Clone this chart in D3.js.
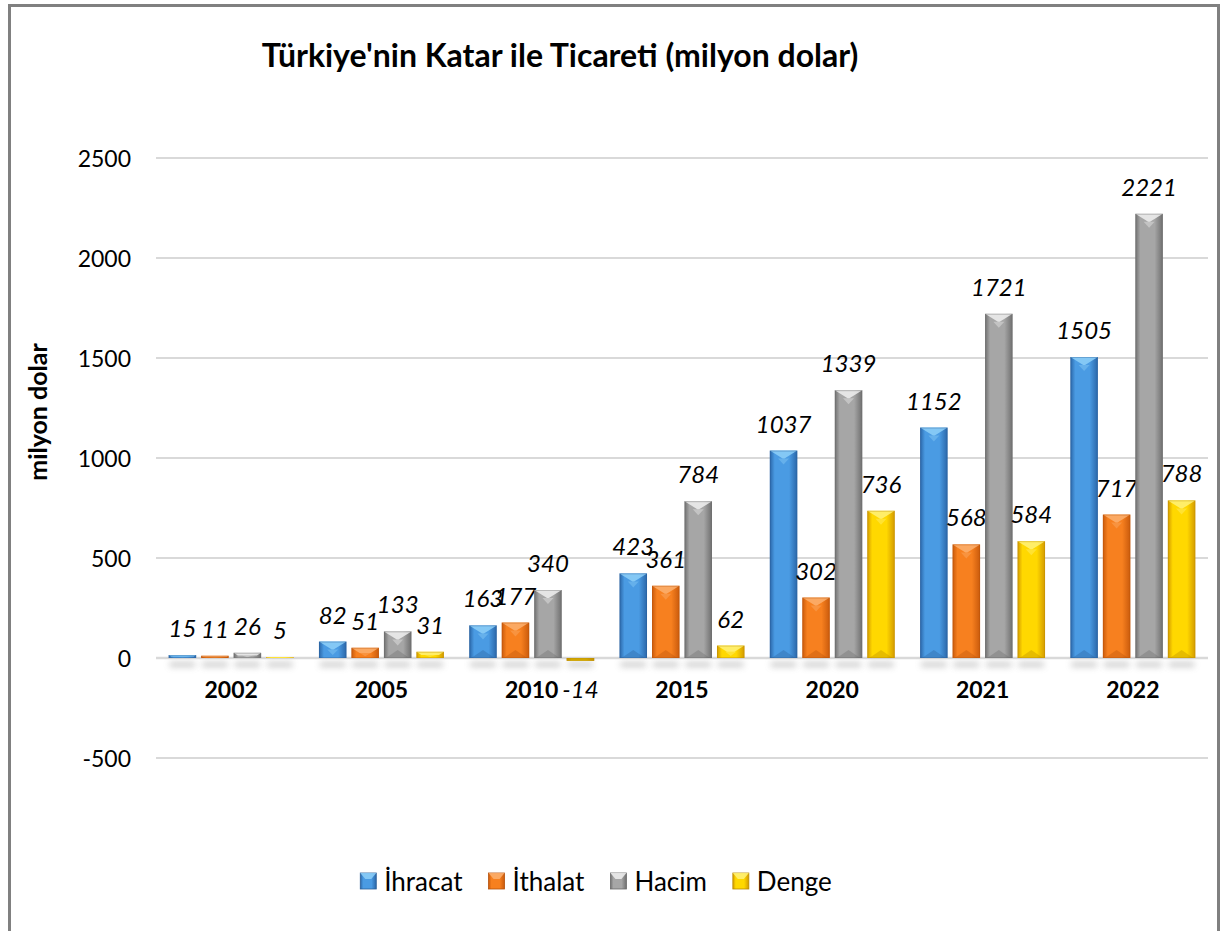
<!DOCTYPE html>
<html>
<head>
<meta charset="utf-8">
<script src="https://cdn.jsdelivr.net/npm/d3@7/dist/d3.min.js"></script>
<style>
  html, body { margin: 0; padding: 0; background: #fff; }
  svg { display: block; font-family: Lato, "Open Sans", sans-serif; }
</style>
</head>
<body>
<svg id="chart" width="1223" height="931"></svg>
<script>
const years = ["2002", "2005", "2010", "2015", "2020", "2021", "2022"];
const seriesNames = ["İhracat", "İthalat", "Hacim", "Denge"];
const ihracat = [15, 82, 163, 423, 1037, 1152, 1505];
const ithalat = [11, 51, 177, 361, 302, 568, 717];
const hacim   = [26, 133, 340, 784, 1339, 1721, 2221];
const denge   = [5, 31, -14, 62, 736, 584, 788];
const yTicks  = [-500, 0, 500, 1000, 1500, 2000, 2500];
const titleText = "Türkiye'nin Katar ile Ticareti (milyon dolar)";
const yTitle = "milyon dolar";

const seriesValues = [ihracat, ithalat, hacim, denge];
const palette = [
  {edge: "#2a66a8", mid: "#4a9be3", light: "#8ed0f8", dark: "#2b5f98"},
  {edge: "#c95a0c", mid: "#f7801f", light: "#fbb070", dark: "#b5500a"},
  {edge: "#6f6f6f", mid: "#a6a6a6", light: "#f0f0f0", dark: "#6a6a6a"},
  {edge: "#d39a00", mid: "#ffd800", light: "#fff27a", dark: "#b88a00"}
];

const svg = d3.select("#chart");
const defs = svg.append("defs");

palette.forEach((p, i) => {
  const g = defs.append("linearGradient").attr("id", "grad" + i)
    .attr("x1", "0%").attr("x2", "100%").attr("y1", "0%").attr("y2", "0%");
  g.append("stop").attr("offset", "0%").attr("stop-color", p.edge);
  g.append("stop").attr("offset", "18%").attr("stop-color", p.mid);
  g.append("stop").attr("offset", "70%").attr("stop-color", p.mid);
  g.append("stop").attr("offset", "100%").attr("stop-color", p.edge);
});
const blur = defs.append("filter").attr("id", "shadow").attr("x", "-50%").attr("y", "-150%").attr("width", "200%").attr("height", "400%");
blur.append("feGaussianBlur").attr("stdDeviation", 3.2);

// frame
svg.append("rect").attr("x", 9.5).attr("y", 5.5).attr("width", 1209).attr("height", 960)
  .attr("fill", "none").attr("stroke", "#808080").attr("stroke-width", 3);

const x0 = d3.scaleBand().domain(years).range([156, 1208]).padding(0);
const x1 = d3.scaleBand().domain(seriesNames).range([0, x0.bandwidth()])
  .paddingInner(0.154).paddingOuter(0.39);
const y = d3.scaleLinear().domain([-500, 2500]).range([758, 158]);

// gridlines
svg.append("g").selectAll("line").data(yTicks).join("line")
  .attr("x1", 156).attr("x2", 1208)
  .attr("y1", d => y(d)).attr("y2", d => y(d))
  .attr("stroke", "#d9d9d9").attr("stroke-width", d => d === 0 ? 2.5 : 2);

// y axis labels
const yAxis = svg.append("g").attr("transform", "translate(131,0)")
  .call(d3.axisLeft(y).tickValues(yTicks).tickSize(0).tickPadding(0).tickFormat(d => String(d)));
yAxis.select(".domain").remove();
yAxis.selectAll("text").attr("font-size", 23).attr("fill", "#000")
  .attr("font-family", "Lato, sans-serif").attr("dy", "0.36em");

// bars
const groups = svg.append("g").selectAll("g").data(years).join("g")
  .attr("transform", d => `translate(${x0(d)},0)`);

const bw = x1.bandwidth();
groups.each(function(yr, yi) {
  const g = d3.select(this);
  seriesNames.forEach((s, si) => {
    const v = seriesValues[si][yi];
    const p = palette[si];
    const bx = x1(s);
    const top = y(Math.max(0, v)), bot = y(Math.min(0, v));
    const h = Math.max(1, bot - top);
    // shadow
    g.append("rect").attr("x", bx + 1).attr("y", y(0) + 4).attr("width", bw - 2).attr("height", 5)
      .attr("fill", "#808080").attr("opacity", 0.4).attr("filter", "url(#shadow)");
    g.append("rect").attr("x", bx).attr("y", top).attr("width", bw).attr("height", h)
      .attr("fill", `url(#grad${si})`);
    // top bevel
    const d = Math.min(8, h / 2);
    if (v >= 0) {
      g.append("path").attr("d", `M${bx},${top}L${bx + bw},${top}L${bx + bw - d * 1.6},${top + d}L${bx + d * 1.6},${top + d}Z`)
        .attr("fill", p.light).attr("opacity", 0.85);
      g.append("path").attr("d", `M${bx + bw * 0.3},${top + d}L${bx + bw * 0.7},${top + d}L${bx + bw / 2},${top + d + Math.min(6, h / 3)}Z`)
        .attr("fill", p.light).attr("opacity", 0.4);
      if (h > 20) {
        g.append("path").attr("d", `M${bx + 2},${bot}L${bx + bw - 2},${bot}L${bx + bw / 2},${bot - 8}Z`)
          .attr("fill", p.dark).attr("opacity", 0.35);
      }
    } else {
      g.append("rect").attr("x", bx).attr("y", top).attr("width", bw).attr("height", h)
        .attr("fill", p.dark).attr("opacity", 0.6);
    }
    g.append("rect").attr("x", bx + 0.5).attr("y", top + 0.5).attr("width", bw - 1).attr("height", Math.max(0, h - 1))
      .attr("fill", "none").attr("stroke", p.dark).attr("stroke-opacity", 0.35).attr("stroke-width", 1);
    // data label
    g.append("text")
      .attr("x", bx + bw / 2)
      .attr("y", v >= 0 ? top - 18 : bot + 37)
      .attr("text-anchor", "middle")
      .attr("font-style", "italic").attr("font-size", 24).attr("fill", "#000")
      .text(v);
  });
});

// category labels
svg.append("g").selectAll("text").data(years).join("text")
  .attr("x", d => x0(d) + x0.bandwidth() / 2).attr("y", 698)
  .attr("text-anchor", "middle").attr("font-weight", "bold").attr("font-size", 23)
  .attr("fill", "#000").text(d => d);

// title
svg.append("text").attr("x", 560).attr("y", 67).attr("text-anchor", "middle")
  .attr("font-weight", "bold").attr("font-size", 32).attr("fill", "#000").text(titleText);

// y title
svg.append("text").attr("transform", "translate(47,412) rotate(-90)")
  .attr("text-anchor", "middle").attr("font-weight", "bold").attr("font-size", 25)
  .attr("fill", "#000").text(yTitle);

// legend
const legend = svg.append("g");
const items = legend.selectAll("g").data(seriesNames).join("g");
items.append("rect").attr("width", 16).attr("height", 16).attr("y", 873)
  .attr("fill", (d, i) => `url(#grad${i})`).attr("stroke", (d, i) => palette[i].dark).attr("stroke-width", 0.8);
items.append("path").attr("d", "M0,873L16,873L11,879L5,879Z").attr("fill", (d, i) => palette[i].light).attr("opacity", 0.85);
items.append("text").attr("x", 24).attr("y", 891).attr("font-size", 26).attr("fill", "#000").text(d => d);
let cx = 0;
const widths = [];
items.each(function() { widths.push(24 + d3.select(this).select("text").node().getComputedTextLength()); });
const gap = 26;
const total = d3.sum(widths) + gap * (widths.length - 1);
cx = 596 - total / 2;
items.each(function(d, i) {
  d3.select(this).attr("transform", `translate(${cx},0)`);
  cx += widths[i] + gap;
});
</script>
</body>
</html>
